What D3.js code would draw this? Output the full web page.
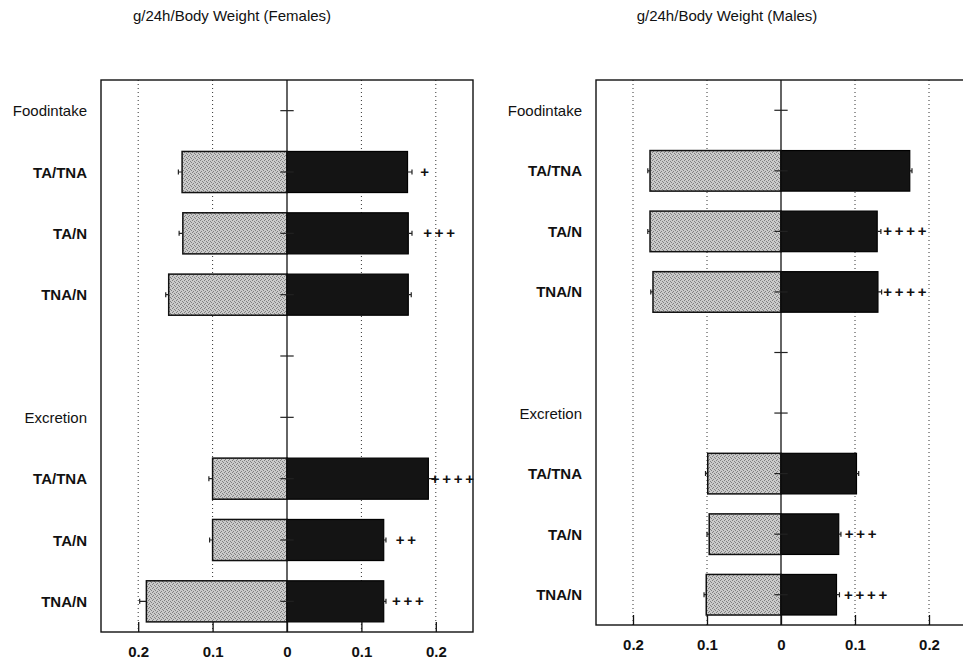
<!DOCTYPE html>
<html>
<head>
<meta charset="utf-8">
<script src="https://cdn.jsdelivr.net/npm/d3@7"></script>
<style>
  body { margin: 0; background: #fff; }
  svg { display: block; font-family: "Liberation Sans", Arial, Helvetica, sans-serif; }
</style>
</head>
<body>
<svg id="chart" width="963" height="662"></svg>
<script>
// rows, top to bottom (empty string = spacer row)
var rowLabels = ["Foodintake", "TA/TNA", "TA/N", "TNA/N", "", "Excretion", "TA/TNA", "TA/N", "TNA/N"];
var headerRows = [0, 5];
var tickValues = [-0.2, -0.1, 0, 0.1, 0.2];

// females
var femLeft = [null, 0.141, 0.140, 0.159, null, null, 0.100, 0.100, 0.189];
var femRight = [null, 0.162, 0.163, 0.163, null, null, 0.190, 0.130, 0.130];
var femLeftErr = [null, 0.005, 0.005, 0.004, null, null, 0.005, 0.004, 0.009];
var femRightErr = [null, 0.006, 0.005, 0.004, null, null, 0.009, 0.003, 0.003];
var femSignif = ["", "+", "+++", "", "", "", "++++", "++", "+++"];
var femSignifAt = [null, 0.185, 0.189, null, null, null, 0.199, 0.152, 0.147];

// males
var maleLeft = [null, 0.177, 0.177, 0.173, null, null, 0.099, 0.097, 0.101];
var maleRight = [null, 0.174, 0.130, 0.131, null, null, 0.102, 0.078, 0.075];
var maleLeftErr = [null, 0.003, 0.003, 0.003, null, null, 0.003, 0.003, 0.003];
var maleRightErr = [null, 0.003, 0.005, 0.005, null, null, 0.003, 0.003, 0.004];
var maleSignif = ["", "", "++++", "++++", "", "", "", "+++", "++++"];
var maleSignifAt = [null, null, 0.144, 0.144, null, null, null, 0.092, 0.091];

var svg = d3.select("#chart");

// stippled grey fill like the printed figure
var pat = svg.append("defs").append("pattern")
	.attr("id", "stipple")
	.attr("width", 4).attr("height", 4)
	.attr("patternUnits", "userSpaceOnUse");
pat.append("rect").attr("width", 4).attr("height", 4).attr("fill", "#cacaca");
[[0, 0], [2, 1], [1, 3], [3, 2]].forEach(function(p) {
	pat.append("rect").attr("x", p[0]).attr("y", p[1]).attr("width", 1).attr("height", 1).attr("fill", "#808080");
});

function drawPanel(cfg) {
	var g = svg.append("g");

	var x = d3.scaleLinear().domain([-0.25, 0.25]).range([cfg.left, cfg.right]);
	var y = d3.scaleBand()
		.domain(d3.range(rowLabels.length))
		.range([cfg.top, cfg.bottom])
		.paddingInner(0.33)
		.paddingOuter(0.165);
	var mid = function(i) { return y(i) + y.bandwidth() / 2; };

	var rows = d3.range(rowLabels.length).map(function(i) {
		return {
			i: i, label: rowLabels[i],
			left: cfg.leftVals[i], right: cfg.rightVals[i],
			leftErr: cfg.leftErr[i], rightErr: cfg.rightErr[i],
			signif: cfg.signif[i], signifAt: cfg.signifAt[i]
		};
	});
	var withBars = rows.filter(function(d) { return d.left != null; });

	// title
	g.append("text")
		.attr("x", cfg.left + 131)
		.attr("y", 21)
		.attr("text-anchor", "middle")
		.style("font-size", "15px")
		.style("fill", "#111")
		.text(cfg.title);

	// dotted grid
	g.selectAll(".grid")
		.data(tickValues.filter(function(v) { return v !== 0; }))
		.enter().append("line")
		.attr("class", "grid")
		.attr("x1", function(d) { return x(d); })
		.attr("x2", function(d) { return x(d); })
		.attr("y1", cfg.top)
		.attr("y2", cfg.bottom)
		.style("stroke", "#333")
		.style("stroke-width", 1)
		.style("stroke-dasharray", "1,3");

	// grey (left) bars
	g.selectAll(".barL")
		.data(withBars)
		.enter().append("rect")
		.attr("class", "barL")
		.attr("x", function(d) { return x(-d.left); })
		.attr("width", function(d) { return x(0) - x(-d.left); })
		.attr("y", function(d) { return y(d.i); })
		.attr("height", y.bandwidth())
		.style("fill", "url(#stipple)")
		.style("stroke", "#111")
		.style("stroke-width", 1.5);

	// black (right) bars
	g.selectAll(".barR")
		.data(withBars)
		.enter().append("rect")
		.attr("class", "barR")
		.attr("x", x(0))
		.attr("width", function(d) { return x(d.right) - x(0); })
		.attr("y", function(d) { return y(d.i); })
		.attr("height", y.bandwidth())
		.style("fill", "#141414")
		.style("stroke", "#000")
		.style("stroke-width", 1.2);

	// error whiskers
	var whisk = [];
	withBars.forEach(function(d) {
		whisk.push({ i: d.i, a: -d.left, b: -d.left - d.leftErr });
		whisk.push({ i: d.i, a: d.right, b: d.right + d.rightErr });
	});
	g.selectAll(".whisk")
		.data(whisk)
		.enter().append("path")
		.attr("class", "whisk")
		.attr("d", function(d) {
			var yy = mid(d.i);
			return "M" + x(d.a) + "," + yy + "H" + x(d.b) + "M" + x(d.b) + "," + (yy - 2.5) + "V" + (yy + 2.5);
		})
		.style("fill", "none")
		.style("stroke", "#222")
		.style("stroke-width", 1.2);

	// zero line
	g.append("line")
		.attr("x1", x(0)).attr("x2", x(0))
		.attr("y1", cfg.top).attr("y2", cfg.bottom)
		.style("stroke", "#111")
		.style("stroke-width", 1.3);

	// little cross marks on the zero line
	g.selectAll(".zt")
		.data(rows)
		.enter().append("line")
		.attr("class", "zt")
		.attr("x1", x(-0.009))
		.attr("x2", x(0.009))
		.attr("y1", function(d) { return mid(d.i); })
		.attr("y2", function(d) { return mid(d.i); })
		.style("stroke", "#222")
		.style("stroke-width", 1.2);

	// significance plus signs
	var plus = [];
	rows.forEach(function(d) {
		for (var k = 0; k < d.signif.length; k++) {
			plus.push({ i: d.i, k: k, at: d.signifAt });
		}
	});
	g.selectAll(".plus")
		.data(plus)
		.enter().append("text")
		.attr("class", "plus")
		.attr("x", function(d) { return x(d.at) + d.k * 11.5; })
		.attr("y", function(d) { return mid(d.i) + 5; })
		.attr("text-anchor", "middle")
		.style("font-size", "15px")
		.style("font-weight", "bold")
		.style("fill", "#111")
		.text("+");

	// row labels
	g.selectAll(".rowLabel")
		.data(rows.filter(function(d) { return d.label !== ""; }))
		.enter().append("text")
		.attr("class", "rowLabel")
		.attr("x", cfg.left - 14)
		.attr("y", function(d) { return mid(d.i) + 5.5; })
		.attr("text-anchor", "end")
		.style("font-size", "15px")
		.style("font-weight", function(d) { return headerRows.indexOf(d.i) >= 0 ? "normal" : "bold"; })
		.style("fill", "#111")
		.text(function(d) { return d.label; });

	// frame
	g.append("rect")
		.attr("x", cfg.left).attr("y", cfg.top)
		.attr("width", cfg.right - cfg.left)
		.attr("height", cfg.bottom - cfg.top)
		.style("fill", "none")
		.style("stroke", "#111")
		.style("stroke-width", 1.4);

	// bottom axis
	var axis = d3.axisBottom(x)
		.tickValues(tickValues)
		.tickSizeInner(-10)
		.tickSizeOuter(0)
		.tickPadding(14)
		.tickFormat(function(d) { return d === 0 ? "0" : d3.format(".1f")(Math.abs(d)); });

	var ax = g.append("g")
		.attr("transform", "translate(0," + cfg.bottom + ")")
		.call(axis);
	ax.select(".domain").remove();
	ax.selectAll(".tick line").style("stroke", "#111").style("stroke-width", 1.3);
	ax.selectAll(".tick text")
		.style("font-family", "'Liberation Sans', Arial, sans-serif")
		.style("font-size", "15px")
		.style("font-weight", "bold")
		.style("fill", "#111");
}

drawPanel({
	title: "g/24h/Body Weight (Females)",
	left: 101, right: 473, top: 80, bottom: 632,
	leftVals: femLeft, rightVals: femRight,
	leftErr: femLeftErr, rightErr: femRightErr,
	signif: femSignif, signifAt: femSignifAt
});

drawPanel({
	title: "g/24h/Body Weight (Males)",
	left: 596, right: 966, top: 80, bottom: 625,
	leftVals: maleLeft, rightVals: maleRight,
	leftErr: maleLeftErr, rightErr: maleRightErr,
	signif: maleSignif, signifAt: maleSignifAt
});
</script>
</body>
</html>
